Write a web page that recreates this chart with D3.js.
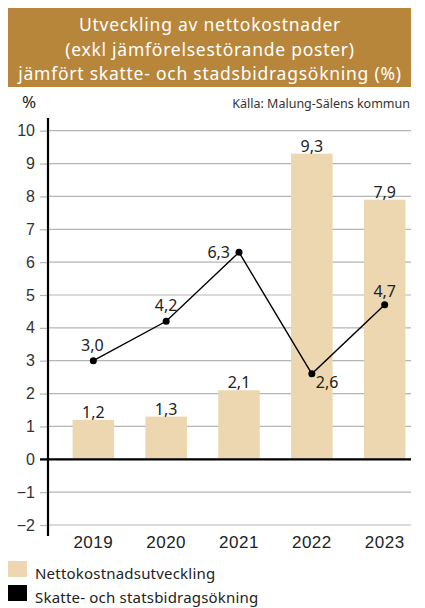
<!DOCTYPE html>
<html>
<head>
<meta charset="utf-8">
<script src="https://cdn.jsdelivr.net/npm/d3@7"></script>
<style>
  html, body { margin: 0; padding: 0; background: #fff; }
  svg { display: block; font-family: "Noto Sans", "Open Sans", sans-serif; }
</style>
</head>
<body>
<svg id="chart" width="425" height="608"></svg>
<script>
// Yearly data
const years = ["2019", "2020", "2021", "2022", "2023"];
const netCost = [1.2, 1.3, 2.1, 9.3, 7.9];        // Nettokostnadsutveckling (bars)
const taxGrant = [3.0, 4.2, 6.3, 2.6, 4.7];        // Skatte- och statsbidragsökning (line)
const yTicks = [-2, -1, 0, 1, 2, 3, 4, 5, 6, 7, 8, 9, 10];
const titleLines = [
  "Utveckling av nettokostnader",
  "(exkl jämförelsestörande poster)",
  "jämfört skatte- och stadsbidragsökning (%)"
];
const legendItems = ["Nettokostnadsutveckling", "Skatte- och statsbidragsökning"];

const fmt = v => d3.format(".1f")(v).replace(".", ",");
const tickFmt = v => v < 0 ? "\u2212" + Math.abs(v) : String(v);

const svg = d3.select("#chart");
const BAR = "#ecd7b0", GOLD = "#b8863a";

// Title banner
svg.append("rect").attr("x", 8).attr("y", 8).attr("width", 403).attr("height", 79).attr("fill", GOLD);
svg.append("g").selectAll("text").data(titleLines).join("text")
  .attr("x", 210).attr("y", (d, i) => 31 + i * 24.5)
  .attr("text-anchor", "middle").attr("fill", "#fff")
  .attr("font-size", 17.5).attr("letter-spacing", 0.75).text(d => d);

svg.append("text").attr("x", 22).attr("y", 108).attr("font-size", 17).attr("fill", "#222").text("%");
svg.append("text").attr("x", 410).attr("y", 108).attr("text-anchor", "end")
  .attr("font-size", 12.5).attr("fill", "#333").text("Källa: Malung-Sälens kommun");

// Scales
const y = d3.scaleLinear().domain([-2, 10]).range([525, 130.7]);
const x = d3.scaleBand().domain(years).range([58, 420]).paddingInner(0.43).paddingOuter(0.2);
const cx = d => x(d) + x.bandwidth() / 2;

// Gridlines and y ticks
const yAxis = d3.axisLeft(y).tickValues(yTicks).tickSize(8).tickPadding(5).tickFormat(tickFmt);
const gy = svg.append("g").attr("transform", "translate(48,0)").call(yAxis);
gy.select(".domain").remove();
gy.selectAll(".tick line").attr("stroke", "#b5b5b5").attr("stroke-width", 1.2);
gy.selectAll(".tick text").attr("font-size", 16).attr("fill", "#333").attr("font-family", "inherit");

svg.append("g").selectAll("line").data(yTicks).join("line")
  .attr("x1", 48).attr("x2", 411)
  .attr("y1", d => y(d)).attr("y2", d => y(d))
  .attr("stroke", "#b5b5b5").attr("stroke-width", 1.2);

// Bars
svg.append("g").selectAll("rect").data(years).join("rect")
  .attr("x", d => x(d)).attr("width", x.bandwidth())
  .attr("y", (d, i) => y(netCost[i]))
  .attr("height", (d, i) => y(0) - y(netCost[i]))
  .attr("fill", BAR);

// Bar value labels
svg.append("g").selectAll("text").data(years).join("text")
  .attr("x", d => cx(d)).attr("y", (d, i) => y(netCost[i]) - 2)
  .attr("text-anchor", "middle").attr("font-size", 16).attr("fill", "#222")
  .text((d, i) => fmt(netCost[i]));

// Zero line and y axis line
svg.append("line").attr("x1", 40).attr("x2", 411).attr("y1", y(0)).attr("y2", y(0))
  .attr("stroke", "#000").attr("stroke-width", 2.2);
svg.append("line").attr("x1", 48).attr("x2", 48).attr("y1", 118).attr("y2", 536)
  .attr("stroke", "#000").attr("stroke-width", 2.2);

// X category labels
const gx = svg.append("g").attr("transform", "translate(0,530)")
  .call(d3.axisBottom(x).tickSize(0).tickPadding(6));
gx.select(".domain").remove();
gx.selectAll(".tick text").attr("font-size", 17).attr("fill", "#222")
  .attr("font-family", "inherit").attr("letter-spacing", 0.5);

// Line series
const line = d3.line().x((d, i) => cx(years[i])).y(d => y(d));
svg.append("path").datum(taxGrant).attr("d", line)
  .attr("fill", "none").attr("stroke", "#000").attr("stroke-width", 1.4);
svg.append("g").selectAll("circle").data(taxGrant).join("circle")
  .attr("cx", (d, i) => cx(years[i])).attr("cy", d => y(d)).attr("r", 3.5).attr("fill", "#000");

// Line value labels: offsets per point
const lineLabelPos = [
  { dx: -1, dy: -10, anchor: "middle" },
  { dx: 0, dy: -10, anchor: "middle" },
  { dx: -9, dy: 6, anchor: "end" },
  { dx: 4, dy: 14, anchor: "start" },
  { dx: 0, dy: -8, anchor: "middle" }
];
svg.append("g").selectAll("text").data(taxGrant).join("text")
  .attr("x", (d, i) => cx(years[i]) + lineLabelPos[i].dx)
  .attr("y", (d, i) => y(d) + lineLabelPos[i].dy)
  .attr("text-anchor", (d, i) => lineLabelPos[i].anchor)
  .attr("font-size", 16).attr("fill", "#222")
  .text(d => fmt(d));

// Legend
const leg = svg.append("g");
leg.selectAll("rect").data(legendItems).join("rect")
  .attr("x", 8).attr("y", (d, i) => 561 + i * 24).attr("width", 19).attr("height", 16)
  .attr("fill", (d, i) => i === 0 ? BAR : "#000");
leg.selectAll("text").data(legendItems).join("text")
  .attr("x", 35).attr("y", (d, i) => 579 + i * 24)
  .attr("font-size", 15).attr("fill", "#222").attr("letter-spacing", 0.2).text(d => d);
</script>
</body>
</html>
